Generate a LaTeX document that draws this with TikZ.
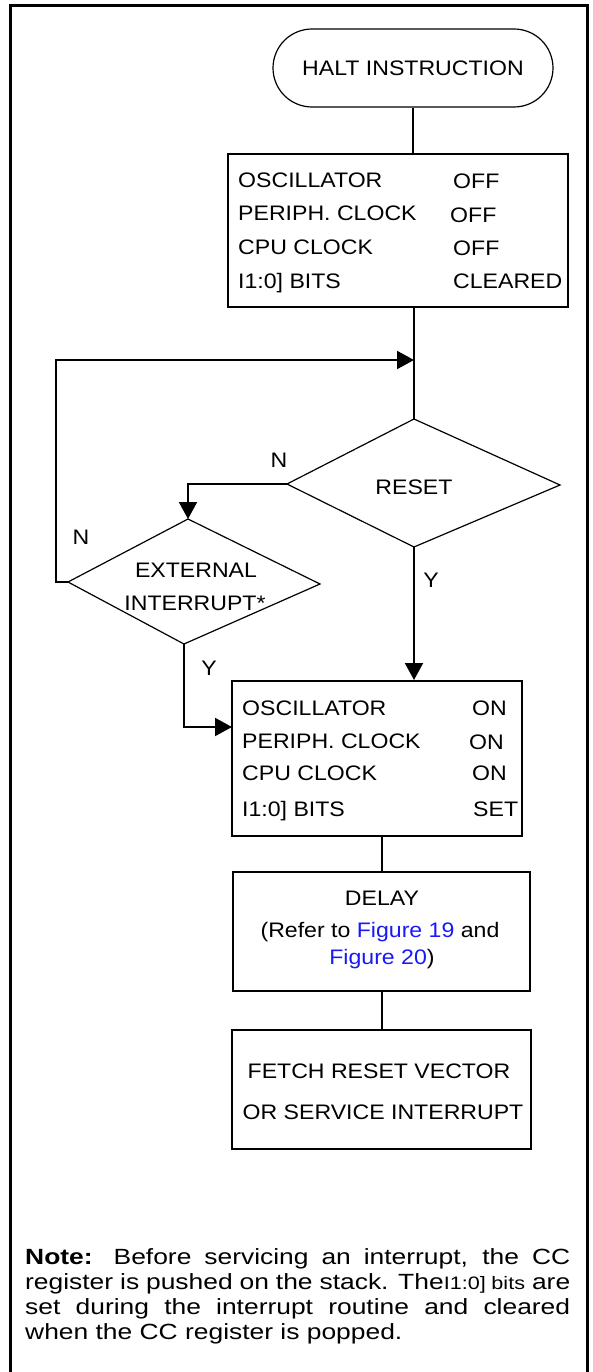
\documentclass[tikz,border=0pt]{standalone}
\usepackage{fontspec}
\setmainfont{Liberation Sans}[FakeStretch=1.1]
\newfontfamily\notefont{Liberation Sans}[FakeStretch=1.2]
\usetikzlibrary{arrows.meta,calc}
\definecolor{linkblue}{RGB}{25,25,245}
\begin{document}
\begin{tikzpicture}[x=1pt,y=-1pt,
  txt/.style={font=\fontsize{21}{25}\selectfont, inner sep=0pt, text height=15pt, text depth=0pt},
  lft/.style={txt, anchor=west},
  box/.style={draw, line width=2pt, inner sep=0pt},
  conn/.style={line width=2pt},
  arr/.style={conn, -{Triangle[length=17pt,width=18pt]}},
  dia/.style={line width=1.2pt, line join=miter}]
\useasboundingbox (0,0) rectangle (593,1372);
% frame
\draw[line width=3pt] (10,1385) -- (10,6) -- (587,6) -- (587,1385);
% terminal
\node[draw, line width=1.2pt, rounded corners=39pt, minimum width=280pt, minimum height=78pt, txt] (term) at (413,68) {HALT INSTRUCTION};
% box 1
\node[box, minimum width=340pt, minimum height=153pt] (b1) at (398,230.5) {};
\node[lft] (o1) at (238,180) {OSCILLATOR};
\node[lft] (o1v) at (453,181) {OFF};
\node[lft] (p1) at (238,213) {PERIPH. CLOCK};
\node[lft] (p1v) at (450,215) {OFF};
\node[lft] (c1) at (238,247) {CPU CLOCK};
\node[lft] (c1v) at (453,248) {OFF};
\node[lft] (i1) at (238,281) {I1:0] BITS};
\node[lft] (i1v) at (453,281) {CLEARED};
% junction
\coordinate (j) at (414,360);
% RESET diamond
\coordinate (rstT) at (414,419);
\coordinate (rstR) at (560,485);
\coordinate (rstB) at (414,547);
\coordinate (rstL) at (287,484);
\draw[dia] (rstT) -- (rstR) -- (rstB) -- (rstL) -- cycle;
\node[txt] (rst) at (414,487) {RESET};
% EXTERNAL INTERRUPT diamond
\coordinate (extT) at (188,519);
\coordinate (extR) at (320,584);
\coordinate (extB) at (184,644);
\coordinate (extL) at (68,582);
\draw[dia] (extT) -- (extR) -- (extB) -- (extL) -- cycle;
\node[txt] (ext1) at (196,570) {EXTERNAL};
\node[txt] (ext2) at (195,603) {INTERRUPT*};
% box 2
\node[box, minimum width=290pt, minimum height=155pt] (b2) at (377,758.5) {};
\node[lft] (o2) at (242,708) {OSCILLATOR};
\node[lft] (o2v) at (472,708) {ON};
\node[lft] (p2) at (242,741) {PERIPH. CLOCK};
\node[lft] (p2v) at (469,742) {ON};
\node[lft] (c2) at (242,773) {CPU CLOCK};
\node[lft] (c2v) at (472,773) {ON};
\node[lft] (i2) at (242,809) {I1:0] BITS};
\node[lft] (i2v) at (473,809) {SET};
% delay
\node[box, minimum width=297pt, minimum height=119pt] (dl) at (381.5,931.5) {};
\node[txt] (dl1) at (382,898) {DELAY};
\node[txt] (dl2) at (380,930) {(Refer to \textcolor{linkblue}{Figure 19} and};
\node[txt] (dl3) at (382,957) {\textcolor{linkblue}{Figure 20})};
% fetch
\node[box, minimum width=299pt, minimum height=119pt] (fe) at (381.5,1089.5) {};
\node[txt] (fe1) at (379,1071) {FETCH RESET VECTOR};
\node[txt] (fe2) at (383,1112) {OR SERVICE INTERRUPT};
% connectors
\coordinate (lp) at (56,582);
\coordinate (b2in) at (232,727);
\draw[conn] (term.south) -- (term.south |- b1.north);
\draw[conn] (b1.south -| j) -- (rstT);
\draw[arr] (rstL) -| (extT);
\draw[arr] (extL) -- (lp) |- (j);
\draw[arr] (rstB) -- (rstB |- b2.north);
\draw[arr] (extB) |- (b2in);
\draw[conn] (b2.south -| dl.north) -- (dl.north);
\draw[conn] (dl.south) -- (dl.south |- fe.north);
% labels
\node[txt] (nr) at (279,460) {N};
\node[txt] (ne) at (81,537) {N};
\node[txt] (yr) at (431,580) {Y};
\node[txt] (ye) at (209,668) {Y};
% note
\node[anchor=north west, inner sep=0pt, text width=545pt, align=justify,
      font=\notefont\fontsize{22}{25}\selectfont] (note) at (25,1248)
  {\textbf{Note:} Before servicing an interrupt, the CC\linebreak
   register is pushed on the stack. The{\fontsize{18}{25}\selectfont I1:0] bits} are\linebreak
   set during the interrupt routine and cleared\linebreak
   when the CC register is popped.};
\end{tikzpicture}
\end{document}
